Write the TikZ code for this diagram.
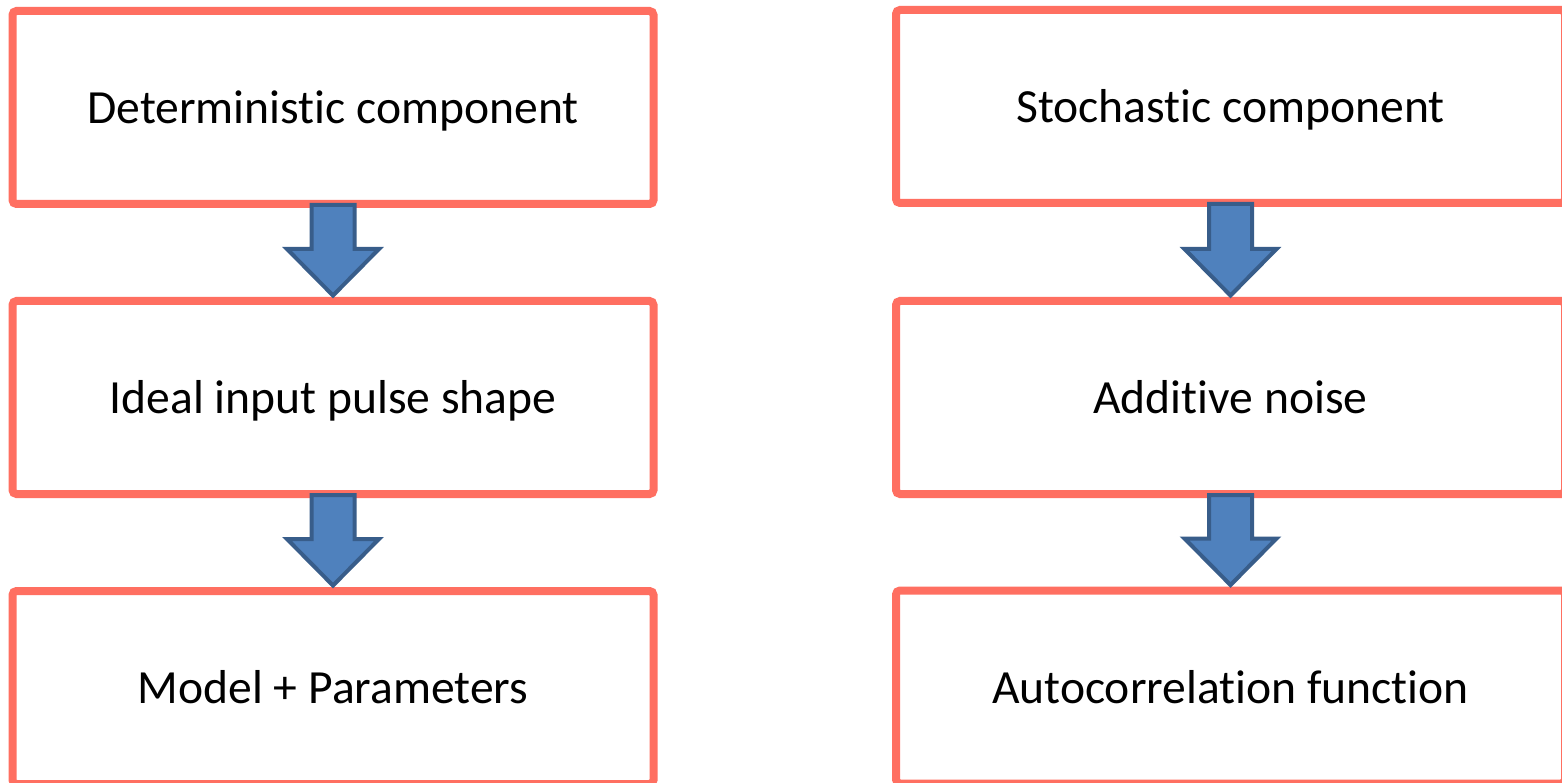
\documentclass[tikz,border=0pt]{standalone}
\usepackage{fontspec}
\setmainfont[Ligatures=NoCommon]{Carlito}
\usetikzlibrary{calc}
\definecolor{boxline}{RGB}{255,111,97}
\definecolor{arrowfill}{RGB}{79,129,189}
\definecolor{arrowline}{RGB}{56,93,138}
\tikzset{
  stagebox/.style={draw=boxline, line width=8pt, rounded corners=4pt, fill=white,
    minimum height=193pt, inner sep=0pt, align=center,
    text height=40pt, text depth=8pt,
    font=\fontsize{47.6}{56}\selectfont},
  leftbox/.style={stagebox, minimum width=641pt},
  rightbox/.style={stagebox, minimum width=669pt},
  blockarrow/.style={draw=arrowline, fill=arrowfill, line width=4pt, line join=miter},
}
% Block arrow pointing down from the bottom of one box to the top of the next
\newcommand\downblock[2]{%
  \draw[blockarrow] let \p1=(#1.south), \p2=(#2.north) in
    (\x1-21.5pt,\y1+3pt) -- (\x1+21.5pt,\y1+3pt) -- (\x1+21.5pt,\y2+48pt) --
    (\x1+46pt,\y2+48pt) -- (\x1,\y2+1.5pt) -- (\x1-46pt,\y2+48pt) --
    (\x1-21.5pt,\y2+48pt) -- cycle;}
\begin{document}
\begin{tikzpicture}[x=1pt,y=-1pt]
  \useasboundingbox (0,0) rectangle (1562,783);
  \clip (0,0) rectangle (1562,783);
  \fill[white] (0,0) rectangle (1562,783);

  % deterministic chain
  \node[leftbox] (d1) at (333,107.5) {Deterministic component};
  \node[leftbox] (d2) at (333,397.5) {Ideal input pulse shape};
  \node[leftbox] (d3) at (333,687.5) {Model + Parameters};

  % stochastic chain
  \node[rightbox] (s1) at (1230.5,106.5) {Stochastic component};
  \node[rightbox] (s2) at (1230.5,397.5) {Additive noise};
  \node[rightbox] (s3) at (1230.5,687) {Autocorrelation function};

  \downblock{d1}{d2}
  \downblock{d2}{d3}
  \downblock{s1}{s2}
  \downblock{s2}{s3}
\end{tikzpicture}
\end{document}
